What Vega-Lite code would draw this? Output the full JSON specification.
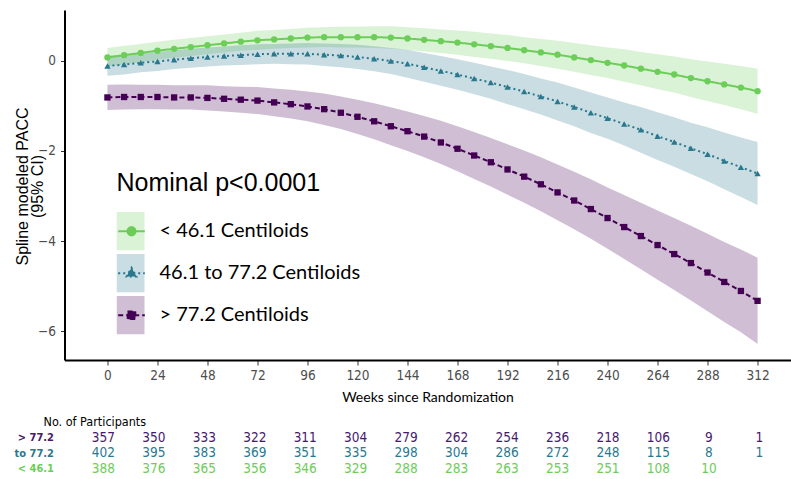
{
  "$schema": "https://vega.github.io/schema/vega-lite/v6.json",
  "background": "white",
  "padding": {"left": 13.5, "top": 10, "right": 0, "bottom": 0},
  "config": {"view": {"stroke": null}, "axis": {"grid": false}},
  "bounds": "flush",
  "spacing": 70,
  "datasets": {
    "curves": [
      {"week":0,"group":"< 46.1 Centiloids","pacc":0.08},{"week":8,"group":"< 46.1 Centiloids","pacc":0.13},{"week":16,"group":"< 46.1 Centiloids","pacc":0.18},{"week":24,"group":"< 46.1 Centiloids","pacc":0.23},{"week":32,"group":"< 46.1 Centiloids","pacc":0.27},{"week":40,"group":"< 46.1 Centiloids","pacc":0.31},{"week":48,"group":"< 46.1 Centiloids","pacc":0.35},{"week":56,"group":"< 46.1 Centiloids","pacc":0.39},{"week":64,"group":"< 46.1 Centiloids","pacc":0.43},{"week":72,"group":"< 46.1 Centiloids","pacc":0.46},{"week":80,"group":"< 46.1 Centiloids","pacc":0.48},{"week":88,"group":"< 46.1 Centiloids","pacc":0.50},{"week":96,"group":"< 46.1 Centiloids","pacc":0.52},{"week":104,"group":"< 46.1 Centiloids","pacc":0.53},{"week":112,"group":"< 46.1 Centiloids","pacc":0.53},{"week":120,"group":"< 46.1 Centiloids","pacc":0.53},{"week":128,"group":"< 46.1 Centiloids","pacc":0.53},{"week":136,"group":"< 46.1 Centiloids","pacc":0.52},{"week":144,"group":"< 46.1 Centiloids","pacc":0.50},{"week":152,"group":"< 46.1 Centiloids","pacc":0.47},{"week":160,"group":"< 46.1 Centiloids","pacc":0.44},{"week":168,"group":"< 46.1 Centiloids","pacc":0.41},{"week":176,"group":"< 46.1 Centiloids","pacc":0.37},{"week":184,"group":"< 46.1 Centiloids","pacc":0.33},{"week":192,"group":"< 46.1 Centiloids","pacc":0.29},{"week":200,"group":"< 46.1 Centiloids","pacc":0.24},{"week":208,"group":"< 46.1 Centiloids","pacc":0.19},{"week":216,"group":"< 46.1 Centiloids","pacc":0.14},{"week":224,"group":"< 46.1 Centiloids","pacc":0.08},{"week":232,"group":"< 46.1 Centiloids","pacc":0.02},{"week":240,"group":"< 46.1 Centiloids","pacc":-0.04},{"week":248,"group":"< 46.1 Centiloids","pacc":-0.10},{"week":256,"group":"< 46.1 Centiloids","pacc":-0.17},{"week":264,"group":"< 46.1 Centiloids","pacc":-0.24},{"week":272,"group":"< 46.1 Centiloids","pacc":-0.30},{"week":280,"group":"< 46.1 Centiloids","pacc":-0.38},{"week":288,"group":"< 46.1 Centiloids","pacc":-0.45},{"week":296,"group":"< 46.1 Centiloids","pacc":-0.52},{"week":304,"group":"< 46.1 Centiloids","pacc":-0.59},{"week":312,"group":"< 46.1 Centiloids","pacc":-0.67},
      {"week":0,"group":"46.1 to 77.2 Centiloids","pacc":-0.11},{"week":8,"group":"46.1 to 77.2 Centiloids","pacc":-0.08},{"week":16,"group":"46.1 to 77.2 Centiloids","pacc":-0.04},{"week":24,"group":"46.1 to 77.2 Centiloids","pacc":-0.01},{"week":32,"group":"46.1 to 77.2 Centiloids","pacc":0.03},{"week":40,"group":"46.1 to 77.2 Centiloids","pacc":0.06},{"week":48,"group":"46.1 to 77.2 Centiloids","pacc":0.09},{"week":56,"group":"46.1 to 77.2 Centiloids","pacc":0.11},{"week":64,"group":"46.1 to 77.2 Centiloids","pacc":0.13},{"week":72,"group":"46.1 to 77.2 Centiloids","pacc":0.15},{"week":80,"group":"46.1 to 77.2 Centiloids","pacc":0.16},{"week":88,"group":"46.1 to 77.2 Centiloids","pacc":0.16},{"week":96,"group":"46.1 to 77.2 Centiloids","pacc":0.16},{"week":104,"group":"46.1 to 77.2 Centiloids","pacc":0.14},{"week":112,"group":"46.1 to 77.2 Centiloids","pacc":0.12},{"week":120,"group":"46.1 to 77.2 Centiloids","pacc":0.09},{"week":128,"group":"46.1 to 77.2 Centiloids","pacc":0.05},{"week":136,"group":"46.1 to 77.2 Centiloids","pacc":0.00},{"week":144,"group":"46.1 to 77.2 Centiloids","pacc":-0.06},{"week":152,"group":"46.1 to 77.2 Centiloids","pacc":-0.14},{"week":160,"group":"46.1 to 77.2 Centiloids","pacc":-0.22},{"week":168,"group":"46.1 to 77.2 Centiloids","pacc":-0.30},{"week":176,"group":"46.1 to 77.2 Centiloids","pacc":-0.39},{"week":184,"group":"46.1 to 77.2 Centiloids","pacc":-0.48},{"week":192,"group":"46.1 to 77.2 Centiloids","pacc":-0.58},{"week":200,"group":"46.1 to 77.2 Centiloids","pacc":-0.68},{"week":208,"group":"46.1 to 77.2 Centiloids","pacc":-0.79},{"week":216,"group":"46.1 to 77.2 Centiloids","pacc":-0.90},{"week":224,"group":"46.1 to 77.2 Centiloids","pacc":-1.02},{"week":232,"group":"46.1 to 77.2 Centiloids","pacc":-1.15},{"week":240,"group":"46.1 to 77.2 Centiloids","pacc":-1.27},{"week":248,"group":"46.1 to 77.2 Centiloids","pacc":-1.40},{"week":256,"group":"46.1 to 77.2 Centiloids","pacc":-1.53},{"week":264,"group":"46.1 to 77.2 Centiloids","pacc":-1.67},{"week":272,"group":"46.1 to 77.2 Centiloids","pacc":-1.80},{"week":280,"group":"46.1 to 77.2 Centiloids","pacc":-1.94},{"week":288,"group":"46.1 to 77.2 Centiloids","pacc":-2.07},{"week":296,"group":"46.1 to 77.2 Centiloids","pacc":-2.22},{"week":304,"group":"46.1 to 77.2 Centiloids","pacc":-2.36},{"week":312,"group":"46.1 to 77.2 Centiloids","pacc":-2.50},
      {"week":0,"group":"> 77.2 Centiloids","pacc":-0.81},{"week":8,"group":"> 77.2 Centiloids","pacc":-0.80},{"week":16,"group":"> 77.2 Centiloids","pacc":-0.80},{"week":24,"group":"> 77.2 Centiloids","pacc":-0.80},{"week":32,"group":"> 77.2 Centiloids","pacc":-0.81},{"week":40,"group":"> 77.2 Centiloids","pacc":-0.81},{"week":48,"group":"> 77.2 Centiloids","pacc":-0.82},{"week":56,"group":"> 77.2 Centiloids","pacc":-0.84},{"week":64,"group":"> 77.2 Centiloids","pacc":-0.86},{"week":72,"group":"> 77.2 Centiloids","pacc":-0.88},{"week":80,"group":"> 77.2 Centiloids","pacc":-0.92},{"week":88,"group":"> 77.2 Centiloids","pacc":-0.96},{"week":96,"group":"> 77.2 Centiloids","pacc":-1.01},{"week":104,"group":"> 77.2 Centiloids","pacc":-1.07},{"week":112,"group":"> 77.2 Centiloids","pacc":-1.15},{"week":120,"group":"> 77.2 Centiloids","pacc":-1.24},{"week":128,"group":"> 77.2 Centiloids","pacc":-1.34},{"week":136,"group":"> 77.2 Centiloids","pacc":-1.45},{"week":144,"group":"> 77.2 Centiloids","pacc":-1.56},{"week":152,"group":"> 77.2 Centiloids","pacc":-1.68},{"week":160,"group":"> 77.2 Centiloids","pacc":-1.81},{"week":168,"group":"> 77.2 Centiloids","pacc":-1.95},{"week":176,"group":"> 77.2 Centiloids","pacc":-2.10},{"week":184,"group":"> 77.2 Centiloids","pacc":-2.25},{"week":192,"group":"> 77.2 Centiloids","pacc":-2.41},{"week":200,"group":"> 77.2 Centiloids","pacc":-2.57},{"week":208,"group":"> 77.2 Centiloids","pacc":-2.74},{"week":216,"group":"> 77.2 Centiloids","pacc":-2.92},{"week":224,"group":"> 77.2 Centiloids","pacc":-3.10},{"week":232,"group":"> 77.2 Centiloids","pacc":-3.29},{"week":240,"group":"> 77.2 Centiloids","pacc":-3.49},{"week":248,"group":"> 77.2 Centiloids","pacc":-3.69},{"week":256,"group":"> 77.2 Centiloids","pacc":-3.89},{"week":264,"group":"> 77.2 Centiloids","pacc":-4.09},{"week":272,"group":"> 77.2 Centiloids","pacc":-4.29},{"week":280,"group":"> 77.2 Centiloids","pacc":-4.49},{"week":288,"group":"> 77.2 Centiloids","pacc":-4.70},{"week":296,"group":"> 77.2 Centiloids","pacc":-4.91},{"week":304,"group":"> 77.2 Centiloids","pacc":-5.11},{"week":312,"group":"> 77.2 Centiloids","pacc":-5.33}
    ],
    "bands": [
      {"week":0,"cohort":"< 46.1","lo":-0.13,"hi":0.29},{"week":8,"cohort":"< 46.1","lo":-0.08,"hi":0.34},{"week":16,"cohort":"< 46.1","lo":-0.02,"hi":0.38},{"week":24,"cohort":"< 46.1","lo":0.03,"hi":0.43},{"week":32,"cohort":"< 46.1","lo":0.07,"hi":0.47},{"week":40,"cohort":"< 46.1","lo":0.11,"hi":0.51},{"week":48,"cohort":"< 46.1","lo":0.15,"hi":0.55},{"week":56,"cohort":"< 46.1","lo":0.19,"hi":0.59},{"week":64,"cohort":"< 46.1","lo":0.23,"hi":0.63},{"week":72,"cohort":"< 46.1","lo":0.25,"hi":0.67},{"week":80,"cohort":"< 46.1","lo":0.27,"hi":0.69},{"week":88,"cohort":"< 46.1","lo":0.29,"hi":0.71},{"week":96,"cohort":"< 46.1","lo":0.30,"hi":0.74},{"week":104,"cohort":"< 46.1","lo":0.31,"hi":0.75},{"week":112,"cohort":"< 46.1","lo":0.30,"hi":0.76},{"week":120,"cohort":"< 46.1","lo":0.30,"hi":0.76},{"week":128,"cohort":"< 46.1","lo":0.29,"hi":0.77},{"week":136,"cohort":"< 46.1","lo":0.27,"hi":0.77},{"week":144,"cohort":"< 46.1","lo":0.25,"hi":0.75},{"week":152,"cohort":"< 46.1","lo":0.21,"hi":0.73},{"week":160,"cohort":"< 46.1","lo":0.18,"hi":0.70},{"week":168,"cohort":"< 46.1","lo":0.14,"hi":0.68},{"week":176,"cohort":"< 46.1","lo":0.09,"hi":0.65},{"week":184,"cohort":"< 46.1","lo":0.05,"hi":0.61},{"week":192,"cohort":"< 46.1","lo":0.00,"hi":0.58},{"week":200,"cohort":"< 46.1","lo":-0.05,"hi":0.53},{"week":208,"cohort":"< 46.1","lo":-0.11,"hi":0.49},{"week":216,"cohort":"< 46.1","lo":-0.17,"hi":0.45},{"week":224,"cohort":"< 46.1","lo":-0.24,"hi":0.40},{"week":232,"cohort":"< 46.1","lo":-0.31,"hi":0.35},{"week":240,"cohort":"< 46.1","lo":-0.38,"hi":0.30},{"week":248,"cohort":"< 46.1","lo":-0.46,"hi":0.26},{"week":256,"cohort":"< 46.1","lo":-0.54,"hi":0.20},{"week":264,"cohort":"< 46.1","lo":-0.63,"hi":0.15},{"week":272,"cohort":"< 46.1","lo":-0.70,"hi":0.10},{"week":280,"cohort":"< 46.1","lo":-0.80,"hi":0.04},{"week":288,"cohort":"< 46.1","lo":-0.89,"hi":-0.01},{"week":296,"cohort":"< 46.1","lo":-0.98,"hi":-0.06},{"week":304,"cohort":"< 46.1","lo":-1.07,"hi":-0.11},{"week":312,"cohort":"< 46.1","lo":-1.17,"hi":-0.17},
      {"week":0,"cohort":"46.1 to 77.2","lo":-0.33,"hi":0.11},{"week":8,"cohort":"46.1 to 77.2","lo":-0.30,"hi":0.14},{"week":16,"cohort":"46.1 to 77.2","lo":-0.25,"hi":0.17},{"week":24,"cohort":"46.1 to 77.2","lo":-0.22,"hi":0.20},{"week":32,"cohort":"46.1 to 77.2","lo":-0.18,"hi":0.24},{"week":40,"cohort":"46.1 to 77.2","lo":-0.15,"hi":0.27},{"week":48,"cohort":"46.1 to 77.2","lo":-0.12,"hi":0.30},{"week":56,"cohort":"46.1 to 77.2","lo":-0.10,"hi":0.32},{"week":64,"cohort":"46.1 to 77.2","lo":-0.09,"hi":0.35},{"week":72,"cohort":"46.1 to 77.2","lo":-0.07,"hi":0.37},{"week":80,"cohort":"46.1 to 77.2","lo":-0.06,"hi":0.38},{"week":88,"cohort":"46.1 to 77.2","lo":-0.07,"hi":0.39},{"week":96,"cohort":"46.1 to 77.2","lo":-0.08,"hi":0.40},{"week":104,"cohort":"46.1 to 77.2","lo":-0.11,"hi":0.39},{"week":112,"cohort":"46.1 to 77.2","lo":-0.14,"hi":0.38},{"week":120,"cohort":"46.1 to 77.2","lo":-0.18,"hi":0.36},{"week":128,"cohort":"46.1 to 77.2","lo":-0.23,"hi":0.33},{"week":136,"cohort":"46.1 to 77.2","lo":-0.29,"hi":0.29},{"week":144,"cohort":"46.1 to 77.2","lo":-0.37,"hi":0.25},{"week":152,"cohort":"46.1 to 77.2","lo":-0.46,"hi":0.18},{"week":160,"cohort":"46.1 to 77.2","lo":-0.55,"hi":0.11},{"week":168,"cohort":"46.1 to 77.2","lo":-0.64,"hi":0.04},{"week":176,"cohort":"46.1 to 77.2","lo":-0.74,"hi":-0.04},{"week":184,"cohort":"46.1 to 77.2","lo":-0.84,"hi":-0.12},{"week":192,"cohort":"46.1 to 77.2","lo":-0.96,"hi":-0.20},{"week":200,"cohort":"46.1 to 77.2","lo":-1.07,"hi":-0.29},{"week":208,"cohort":"46.1 to 77.2","lo":-1.19,"hi":-0.39},{"week":216,"cohort":"46.1 to 77.2","lo":-1.32,"hi":-0.48},{"week":224,"cohort":"46.1 to 77.2","lo":-1.45,"hi":-0.59},{"week":232,"cohort":"46.1 to 77.2","lo":-1.60,"hi":-0.70},{"week":240,"cohort":"46.1 to 77.2","lo":-1.73,"hi":-0.81},{"week":248,"cohort":"46.1 to 77.2","lo":-1.88,"hi":-0.92},{"week":256,"cohort":"46.1 to 77.2","lo":-2.04,"hi":-1.02},{"week":264,"cohort":"46.1 to 77.2","lo":-2.20,"hi":-1.14},{"week":272,"cohort":"46.1 to 77.2","lo":-2.35,"hi":-1.25},{"week":280,"cohort":"46.1 to 77.2","lo":-2.51,"hi":-1.37},{"week":288,"cohort":"46.1 to 77.2","lo":-2.67,"hi":-1.47},{"week":296,"cohort":"46.1 to 77.2","lo":-2.85,"hi":-1.59},{"week":304,"cohort":"46.1 to 77.2","lo":-3.02,"hi":-1.70},{"week":312,"cohort":"46.1 to 77.2","lo":-3.20,"hi":-1.80},
      {"week":0,"cohort":"> 77.2","lo":-1.09,"hi":-0.53},{"week":8,"cohort":"> 77.2","lo":-1.08,"hi":-0.52},{"week":16,"cohort":"> 77.2","lo":-1.07,"hi":-0.53},{"week":24,"cohort":"> 77.2","lo":-1.07,"hi":-0.53},{"week":32,"cohort":"> 77.2","lo":-1.08,"hi":-0.54},{"week":40,"cohort":"> 77.2","lo":-1.08,"hi":-0.54},{"week":48,"cohort":"> 77.2","lo":-1.10,"hi":-0.54},{"week":56,"cohort":"> 77.2","lo":-1.12,"hi":-0.56},{"week":64,"cohort":"> 77.2","lo":-1.15,"hi":-0.57},{"week":72,"cohort":"> 77.2","lo":-1.18,"hi":-0.58},{"week":80,"cohort":"> 77.2","lo":-1.23,"hi":-0.61},{"week":88,"cohort":"> 77.2","lo":-1.28,"hi":-0.64},{"week":96,"cohort":"> 77.2","lo":-1.34,"hi":-0.68},{"week":104,"cohort":"> 77.2","lo":-1.42,"hi":-0.72},{"week":112,"cohort":"> 77.2","lo":-1.51,"hi":-0.79},{"week":120,"cohort":"> 77.2","lo":-1.62,"hi":-0.86},{"week":128,"cohort":"> 77.2","lo":-1.74,"hi":-0.94},{"week":136,"cohort":"> 77.2","lo":-1.87,"hi":-1.03},{"week":144,"cohort":"> 77.2","lo":-2.00,"hi":-1.12},{"week":152,"cohort":"> 77.2","lo":-2.14,"hi":-1.22},{"week":160,"cohort":"> 77.2","lo":-2.29,"hi":-1.33},{"week":168,"cohort":"> 77.2","lo":-2.45,"hi":-1.45},{"week":176,"cohort":"> 77.2","lo":-2.62,"hi":-1.58},{"week":184,"cohort":"> 77.2","lo":-2.79,"hi":-1.71},{"week":192,"cohort":"> 77.2","lo":-2.97,"hi":-1.85},{"week":200,"cohort":"> 77.2","lo":-3.15,"hi":-1.99},{"week":208,"cohort":"> 77.2","lo":-3.34,"hi":-2.14},{"week":216,"cohort":"> 77.2","lo":-3.54,"hi":-2.30},{"week":224,"cohort":"> 77.2","lo":-3.74,"hi":-2.46},{"week":232,"cohort":"> 77.2","lo":-3.95,"hi":-2.63},{"week":240,"cohort":"> 77.2","lo":-4.17,"hi":-2.81},{"week":248,"cohort":"> 77.2","lo":-4.40,"hi":-2.98},{"week":256,"cohort":"> 77.2","lo":-4.63,"hi":-3.15},{"week":264,"cohort":"> 77.2","lo":-4.86,"hi":-3.32},{"week":272,"cohort":"> 77.2","lo":-5.09,"hi":-3.49},{"week":280,"cohort":"> 77.2","lo":-5.32,"hi":-3.66},{"week":288,"cohort":"> 77.2","lo":-5.56,"hi":-3.84},{"week":296,"cohort":"> 77.2","lo":-5.80,"hi":-4.02},{"week":304,"cohort":"> 77.2","lo":-6.03,"hi":-4.19},{"week":312,"cohort":"> 77.2","lo":-6.29,"hi":-4.37}
    ],
    "counts": [
      {"cohort":"> 77.2","week":0,"n":357},{"cohort":"> 77.2","week":24,"n":350},{"cohort":"> 77.2","week":48,"n":333},{"cohort":"> 77.2","week":72,"n":322},{"cohort":"> 77.2","week":96,"n":311},{"cohort":"> 77.2","week":120,"n":304},{"cohort":"> 77.2","week":144,"n":279},{"cohort":"> 77.2","week":168,"n":262},{"cohort":"> 77.2","week":192,"n":254},{"cohort":"> 77.2","week":216,"n":236},{"cohort":"> 77.2","week":240,"n":218},{"cohort":"> 77.2","week":264,"n":106},{"cohort":"> 77.2","week":288,"n":9},{"cohort":"> 77.2","week":312,"n":1},
      {"cohort":"to 77.2","week":0,"n":402},{"cohort":"to 77.2","week":24,"n":395},{"cohort":"to 77.2","week":48,"n":383},{"cohort":"to 77.2","week":72,"n":369},{"cohort":"to 77.2","week":96,"n":351},{"cohort":"to 77.2","week":120,"n":335},{"cohort":"to 77.2","week":144,"n":298},{"cohort":"to 77.2","week":168,"n":304},{"cohort":"to 77.2","week":192,"n":286},{"cohort":"to 77.2","week":216,"n":272},{"cohort":"to 77.2","week":240,"n":248},{"cohort":"to 77.2","week":264,"n":115},{"cohort":"to 77.2","week":288,"n":8},{"cohort":"to 77.2","week":312,"n":1},
      {"cohort":"< 46.1","week":0,"n":388},{"cohort":"< 46.1","week":24,"n":376},{"cohort":"< 46.1","week":48,"n":365},{"cohort":"< 46.1","week":72,"n":356},{"cohort":"< 46.1","week":96,"n":346},{"cohort":"< 46.1","week":120,"n":329},{"cohort":"< 46.1","week":144,"n":288},{"cohort":"< 46.1","week":168,"n":283},{"cohort":"< 46.1","week":192,"n":263},{"cohort":"< 46.1","week":216,"n":253},{"cohort":"< 46.1","week":240,"n":251},{"cohort":"< 46.1","week":264,"n":108},{"cohort":"< 46.1","week":288,"n":10}
    ]
  },
  "vconcat": [
    {
      "width": 726,
      "height": 350,
      "resolve": {"scale": {"shape": "independent", "fill": "independent", "stroke": "independent", "strokeDash": "independent"}},
      "layer": [
        {
          "data": {"name": "bands"},
          "mark": {"type": "area", "opacity": 0.25},
          "encoding": {
            "x": {"field": "week", "type": "quantitative",
              "scale": {"domain": [-20.6, 327.8], "nice": false, "zero": false},
              "axis": {"values": [0,24,48,72,96,120,144,168,192,216,240,264,288,312], "title": "Weeks since Randomization",
                "domainColor": "black", "domainWidth": 2, "tickColor": "#333333", "tickSize": 5, "tickWidth": 1,
                "labelFont": "Liberation Sans Narrow, Arial Narrow, DejaVu Sans Condensed, sans-serif", "labelFontSize": 13.5, "labelColor": "#4D4D4D", "labelPadding": 3,
                "titleFont": "Lato", "titleFontSize": 14, "titleFontWeight": "normal", "titleColor": "black", "titlePadding": 9}},
            "y": {"field": "lo", "type": "quantitative",
              "scale": {"domain": [-6.644, 1.133], "nice": false, "zero": false},
              "axis": {"values": [0,-2,-4,-6], "title": ["Spline modeled PACC", "(95% CI)"],
                "domainColor": "black", "domainWidth": 2, "tickColor": "#333333", "tickSize": 4, "tickWidth": 1,
                "labelFont": "Liberation Sans Narrow, Arial Narrow, DejaVu Sans Condensed, sans-serif", "labelFontSize": 13.5, "labelColor": "#4D4D4D", "labelPadding": 5,
                "titleFont": "Liberation Sans", "titleFontSize": 16, "titleFontWeight": "normal", "titleColor": "black", "titleLineHeight": 15,
                "titleX": -34, "titleY": 176, "titleAngle": 270, "titleBaseline": "bottom", "titleAlign": "center"}},
            "y2": {"field": "hi"},
            "color": {"field": "cohort", "type": "nominal",
              "scale": {"domain": ["< 46.1", "46.1 to 77.2", "> 77.2"], "range": ["#6DCD59", "#2A788E", "#440154"]},
              "legend": {"orient": "none", "legendX": 52, "legendY": 161, "padding": 0,
                "title": "Nominal p<0.0001", "titleFont": "Liberation Sans", "titleFontSize": 25, "titleFontWeight": "normal", "titleColor": "black", "titlePadding": 16, "titleLimit": 400, "titleAnchor": "start",
                "symbolType": "M-1,-1.375H1V1.375H-1Z", "symbolSize": 784, "symbolOpacity": 0.25, "symbolStrokeWidth": 0,
                "clipHeight": 38.5, "labelExpr": "''", "labelFontSize": 20, "rowPadding": 3}}
          }
        },
        {
          "mark": {"type": "rule", "strokeDash": [2, 4.3], "color": "#3A3A3A", "strokeWidth": 1.5},
          "encoding": {"x": {"datum": 240}}
        },
        {
          "data": {"name": "curves"},
          "mark": {"type": "line", "strokeWidth": 2},
          "encoding": {
            "x": {"field": "week", "type": "quantitative"},
            "y": {"field": "pacc", "type": "quantitative"},
            "stroke": {"field": "group", "type": "nominal",
              "scale": {"domain": ["< 46.1 Centiloids", "46.1 to 77.2 Centiloids", "> 77.2 Centiloids"], "range": ["#6DCD59", "#2A788E", "#440154"]},
              "legend": null},
            "strokeDash": {"field": "group", "type": "nominal",
              "scale": {"domain": ["< 46.1 Centiloids", "46.1 to 77.2 Centiloids", "> 77.2 Centiloids"], "range": [[1,0],[2,3],[5,3]]},
              "legend": null}
          }
        },
        {
          "data": {"name": "curves"},
          "mark": {"type": "point", "filled": true, "opacity": 1, "size": 40, "strokeWidth": 0},
          "encoding": {
            "x": {"field": "week", "type": "quantitative"},
            "y": {"field": "pacc", "type": "quantitative"},
            "shape": {"field": "group", "type": "nominal",
              "scale": {"domain": ["< 46.1 Centiloids", "46.1 to 77.2 Centiloids", "> 77.2 Centiloids"], "range": ["circle", "triangle-up", "square"]},
              "legend": null},
            "fill": {"field": "group", "type": "nominal",
              "scale": {"domain": ["< 46.1 Centiloids", "46.1 to 77.2 Centiloids", "> 77.2 Centiloids"], "range": ["#6DCD59", "#2A788E", "#440154"]},
              "legend": null}
          }
        },
        {
          "data": {"name": "curves"},
          "mark": {"type": "point", "filled": true, "opacity": 0, "strokeWidth": 1.8},
          "encoding": {
            "x": {"field": "week", "type": "quantitative"},
            "y": {"field": "pacc", "type": "quantitative"},
            "shape": {"field": "group", "type": "nominal",
              "scale": {"domain": ["< 46.1 Centiloids", "46.1 to 77.2 Centiloids", "> 77.2 Centiloids"],
                "range": [
                  "M-0.95,0H0.95M0.3,0L0.26,0.15L0.15,0.26L0,0.3L-0.15,0.26L-0.26,0.15L-0.3,0L-0.26,-0.15L-0.15,-0.26L0,-0.3L0.15,-0.26L0.26,-0.15Z",
                  "M-0.95,0H0.95M0,-0.4L0.36,0.24L-0.36,0.24Z",
                  "M-0.95,0H0.95M-0.28,-0.28H0.28V0.28H-0.28Z"]},
              "legend": {"orient": "none", "legendX": 52, "legendY": 202, "padding": 0,
                "title": null,
                "symbolSize": 784, "symbolStrokeWidth": 1.8, "symbolOpacity": 1, "clipHeight": 38.5,
                "labelFont": "Lato", "labelFontSize": 20, "labelColor": "black", "labelOffset": 13, "labelLimit": 400, "rowPadding": 3}},
            "fill": {"field": "group", "type": "nominal",
              "scale": {"domain": ["< 46.1 Centiloids", "46.1 to 77.2 Centiloids", "> 77.2 Centiloids"], "range": ["#6DCD59", "#2A788E", "#440154"]}},
            "stroke": {"field": "group", "type": "nominal",
              "scale": {"domain": ["< 46.1 Centiloids", "46.1 to 77.2 Centiloids", "> 77.2 Centiloids"], "range": ["#6DCD59", "#2A788E", "#440154"]}},
            "strokeDash": {"field": "group", "type": "nominal",
              "scale": {"domain": ["< 46.1 Centiloids", "46.1 to 77.2 Centiloids", "> 77.2 Centiloids"], "range": [[1,0],[2,3],[5,3]]}}
          }
        }
      ]
    },
    {
      "width": 726,
      "height": 46.2,
      "data": {"name": "counts"},
      "title": {"text": "No. of Participants", "anchor": "start", "frame": "group", "dx": -21, "offset": 1.5,
        "font": "Liberation Sans Narrow, Arial Narrow, DejaVu Sans Condensed, sans-serif", "fontSize": 12.5, "fontWeight": "normal", "color": "black"},
      "encoding": {
        "x": {"field": "week", "type": "quantitative", "scale": {"domain": [-18.5, 326.8], "nice": false, "zero": false}, "axis": null},
        "y": {"field": "cohort", "type": "nominal",
          "scale": {"domain": ["> 77.2", "to 77.2", "< 46.1"], "paddingInner": 0, "paddingOuter": 0},
          "axis": {"title": null, "domain": false, "ticks": false, "labelPadding": 11,
            "labelFont": "DejaVu Sans Condensed", "labelFontWeight": "bold", "labelFontSize": 11,
            "labelColor": {"condition": [{"test": "datum.value === '> 77.2'", "value": "#46196B"}, {"test": "datum.value === 'to 77.2'", "value": "#2A788E"}], "value": "#6DCD59"}}},
        "text": {"field": "n", "type": "quantitative", "format": "d"}
      },
      "layer": [
        {"transform": [{"filter": "datum.cohort === '> 77.2'"}],
         "mark": {"type": "text", "font": "Liberation Sans Narrow, Arial Narrow, DejaVu Sans Condensed, sans-serif", "fontSize": 13.5, "color": "#46196B"}},
        {"transform": [{"filter": "datum.cohort === 'to 77.2'"}],
         "mark": {"type": "text", "font": "Liberation Sans Narrow, Arial Narrow, DejaVu Sans Condensed, sans-serif", "fontSize": 13.5, "color": "#2A788E"}},
        {"transform": [{"filter": "datum.cohort === '< 46.1'"}],
         "mark": {"type": "text", "font": "Liberation Sans Narrow, Arial Narrow, DejaVu Sans Condensed, sans-serif", "fontSize": 13.5, "color": "#6DCD59"}}
      ]
    }
  ]
}
